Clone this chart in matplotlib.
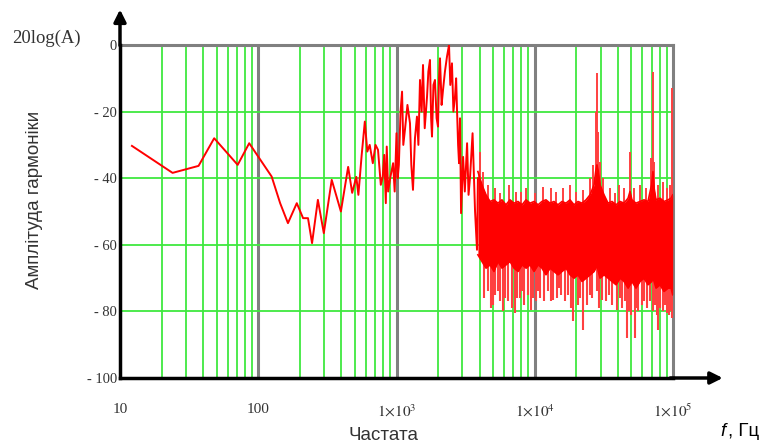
import numpy as np
import matplotlib
matplotlib.use('Agg')
import matplotlib.pyplot as plt

plt.rcParams['mathtext.fontset'] = 'stix'

# low/mid frequency part, single line (Hz, dB)
line_f = [12.2, 24, 37, 48, 71, 86, 125, 144, 164, 190, 211, 229, 245, 270, 298,
          340, 396, 447, 478, 512, 530, 560, 590, 615, 640, 674, 705, 735, 770,
          795, 815, 837, 850, 870, 900, 945, 970, 1000, 1020, 1040, 1070, 1097,
          1120, 1151, 1200, 1252, 1280, 1316, 1360, 1406, 1440, 1479, 1520, 1555,
          1600, 1663, 1700, 1746, 1780, 1806, 1850, 1898, 1950, 1996, 2030, 2063,
          2120, 2170, 2240, 2318, 2398, 2450, 2519, 2580, 2649, 2700, 2740, 2790,
          2834, 2880, 2931, 3031, 3120, 3240, 3320, 3405, 3550, 3700, 3822, 3880]
line_db = [-30.3, -38.4, -36.3, -28, -36, -29.5, -39.5, -47.5, -53.5, -47.5, -52,
           -52, -59.5, -46.5, -56.5, -40.5, -50, -36.6, -44.4, -39.6, -45, -33,
           -23, -32, -30, -35.5, -30, -31.5, -42, -39.6, -33, -47.5, -30.5, -44,
           -40, -35.5, -44, -26.5, -40, -36, -20, -14, -30, -25.5, -18, -23.5,
           -36, -43.5, -28, -21.5, -30, -10.5, -20, -6, -25, -15.5, -8, -4.5,
           -22, -27.5, -12, -10.5, -22, -24.5, -10, -4, -18, -13.5, -8, -3.5, 0,
           -12, -5.5, -20, -15.5, -10, -19.5, -30, -35.5, -22, -50.5, -33.6, -44,
           -29.5, -45, -39.6, -26.5, -50, -61.5, -40]

# dense noisy part: solid core (upper and lower edge), Hz, dB
band_f = [3880, 4150, 4440, 4750, 5070, 5420, 5790, 6190, 6620, 7080, 7570, 8090,
          8650, 9250, 9880, 10570, 11270, 12050, 12880, 13770, 14720, 15740,
          16830, 17990, 19230, 20560, 21980, 23500, 25120, 26850, 27600, 28180,
          28800, 29650, 31700, 33880, 36220, 38730, 41400, 44260, 47320, 48870,
          50450, 53950, 57680, 61660, 65920, 70000, 71610, 73000, 75340, 80540,
          86100, 92050, 96800, 99500]
band_hi = [-38, -42, -45, -47, -46.5, -47.5, -46.5, -48, -46.5, -47.5, -47, -48,
           -46.5, -47.5, -47, -48, -47, -46.5, -47.5, -47, -48, -47, -47.5, -46.5,
           -48, -47, -47.5, -46.5, -45, -42, -38, -36, -38, -42, -45, -47.5, -47,
           -48, -47, -47.5, -46, -44, -46.5, -47.5, -47, -46.5, -47, -42, -38,
           -43, -46.5, -46, -47, -46.5, -46, -45]
band_lo = [-63, -65, -67, -66, -68, -65, -67, -66, -65, -67, -68, -66, -67, -66,
           -68, -66, -67, -69, -67, -68, -69, -68, -67, -69, -70, -69, -71, -70,
           -69, -68, -67, -66, -68, -70, -69, -70, -71, -72, -70, -71, -73, -72,
           -71, -73, -71, -70, -72, -71, -70, -71, -73, -72, -74, -73, -73, -75]

# thin strands below and above the core (Hz, dB)
down_f = [4300, 4600, 4800, 5000, 5200, 5400, 5650, 5900, 6100, 6400, 6900, 7200,
          7500, 7800, 8100, 8400, 9000, 9400, 9700, 10200, 10600, 11000, 11700,
          12500, 13000, 13500, 14500, 15000, 15500, 16500, 17500, 18300, 19000,
          20500, 21300, 22300, 24000, 25000, 26000, 28000, 29000, 30700, 33000,
          34500, 36000, 39500, 41500, 43000, 45000, 46500, 48000, 50000, 53000,
          54500, 56000, 60000, 62000, 64500, 68000, 72000, 74000, 76000, 78000,
          81000, 84000, 87000, 90000, 93000, 95000, 98000]
down_db = [-76, -74, -79, -78, -75, -74, -77, -80, -76, -77, -79, -80.5, -76, -76,
           -74, -78, -75, -79.6, -76, -77, -74, -76, -77, -74, -77, -76.5, -76,
           -73, -75, -77, -75, -79, -83, -78, -76, -85.6, -78, -75, -76, -74, -79,
           -76.6, -77, -75, -78, -79.6, -76, -79, -77, -88, -80, -81, -88, -79,
           -80, -78, -77, -79, -77, -80, -78, -81, -85.6, -79, -80, -78, -80.5,
           -81, -80, -82]
up_f = [4000, 4250, 4600, 5200, 5600, 6500, 7300, 8000, 8700, 10000, 11500, 13000,
        14200, 16000, 18000, 20000, 22500, 25000, 26500, 27800, 28200, 28600, 29500,
        31000, 35000, 38000, 41000, 44000, 48900, 52000, 58000, 64000, 69000, 71600,
        72500, 78000, 85000, 90000, 95000, 99000]
up_db = [-32, -38, -42, -43, -44.5, -42, -44, -44, -43, -44.5, -42.5, -43, -44,
         -43, -42, -44, -43.5, -40, -36, -20, -8.5, -26, -35, -40, -43, -44.5, -42,
         -43, -32, -43, -42, -43, -34, -8, -35, -42, -41, -43, -42, -13]

y_ticks = [0, -20, -40, -60, -80, -100]
y_labels = ['0', '- 20', '- 40', '- 60', '- 80', '- 100']
x_ticks = [10, 100, 1e3, 1e4, 1e5]
x_labels = ['10', '100', r'$1{\times}10^{3}$', r'$1{\times}10^{4}$', r'$1{\times}10^{5}$']

green = '#3fe83f'
gray = '#808080'
red = '#ff0000'
pink = '#ff4040'

fig = plt.figure(figsize=(7.67, 4.47), dpi=100)
ax = fig.add_axes([120/767, 69/447, 553/767, 333/447])
ax.set_xscale('log')
ax.set_xlim(10, 1e5)
ax.set_ylim(-100, 0)

# grid
for dec in [10, 100, 1000, 10000]:
    for k in range(2, 10):
        ax.axvline(dec*k, color=green, lw=1.3, zorder=1)
for dec in [100, 1000, 10000]:
    ax.axvline(dec, color=gray, lw=2.2, zorder=1)
for yv in [-20, -40, -60, -80]:
    ax.axhline(yv, color=green, lw=1.3, zorder=1)
ax.axhline(0, color=gray, lw=2.2, zorder=1, clip_on=False)
ax.axvline(1e5, color=gray, lw=2.2, zorder=1, clip_on=False)

# data
ax.plot(line_f, line_db, color=red, lw=1.4, zorder=3)
ax.vlines(down_f, -64, down_db, color=pink, lw=1.5, zorder=2)
ax.vlines(up_f, -50, up_db, color=pink, lw=1.4, zorder=2)
ax.fill_between(band_f, band_lo, band_hi, color=red, lw=0, zorder=3)
ax.plot(band_f, band_hi, color=red, lw=1.2, zorder=3)
ax.plot(band_f, band_lo, color=red, lw=1.2, zorder=3)

for s in ['top', 'right']:
    ax.spines[s].set_visible(False)
for s in ['left', 'bottom']:
    ax.spines[s].set_linewidth(2.5)
    ax.spines[s].set_color('black')

ax.set_yticks(y_ticks)
ax.set_yticklabels(y_labels, fontfamily='Liberation Serif', fontsize=10.5, color='#333333')
ax.set_xticks(x_ticks)
ax.set_xticklabels(x_labels, fontfamily='Liberation Serif', fontsize=11, color='#333333')
ax.minorticks_off()
ax.tick_params(axis='y', length=0, pad=2)
ax.tick_params(axis='x', length=0, pad=18)

# arrows
ax.annotate('', xy=(0, 1.115), xytext=(0, 0.99), xycoords='axes fraction',
            arrowprops=dict(arrowstyle='-|>', color='black', lw=2.5, mutation_scale=18))
ax.annotate('', xy=(1.095, 0), xytext=(0.99, 0), xycoords='axes fraction',
            arrowprops=dict(arrowstyle='-|>', color='black', lw=2.5, mutation_scale=18))

fig.text(12/767, 1 - 38/447, '20log(A)', fontfamily='Liberation Serif', fontsize=13.5,
         color='#333333', va='center', ha='left')
fig.text(35/767, 1 - 200/447, 'Амплітуда гармоніки', fontfamily='Liberation Sans',
         fontsize=13.5, color='#333333', rotation=90, va='center', ha='center')
fig.text(383/767, 1 - 435/447, 'Частата', fontfamily='Liberation Sans', fontsize=13.5,
         color='#333333', va='center', ha='center')
fig.text(720/767, 1 - 431/447, 'f', fontfamily='Liberation Sans', fontsize=13.5,
         style='italic', color='black', va='center', ha='left')
fig.text(728/767, 1 - 431/447, ', Гц', fontfamily='Liberation Sans', fontsize=13.5,
         color='black', va='center', ha='left')

fig.savefig('out.png', dpi=100)
